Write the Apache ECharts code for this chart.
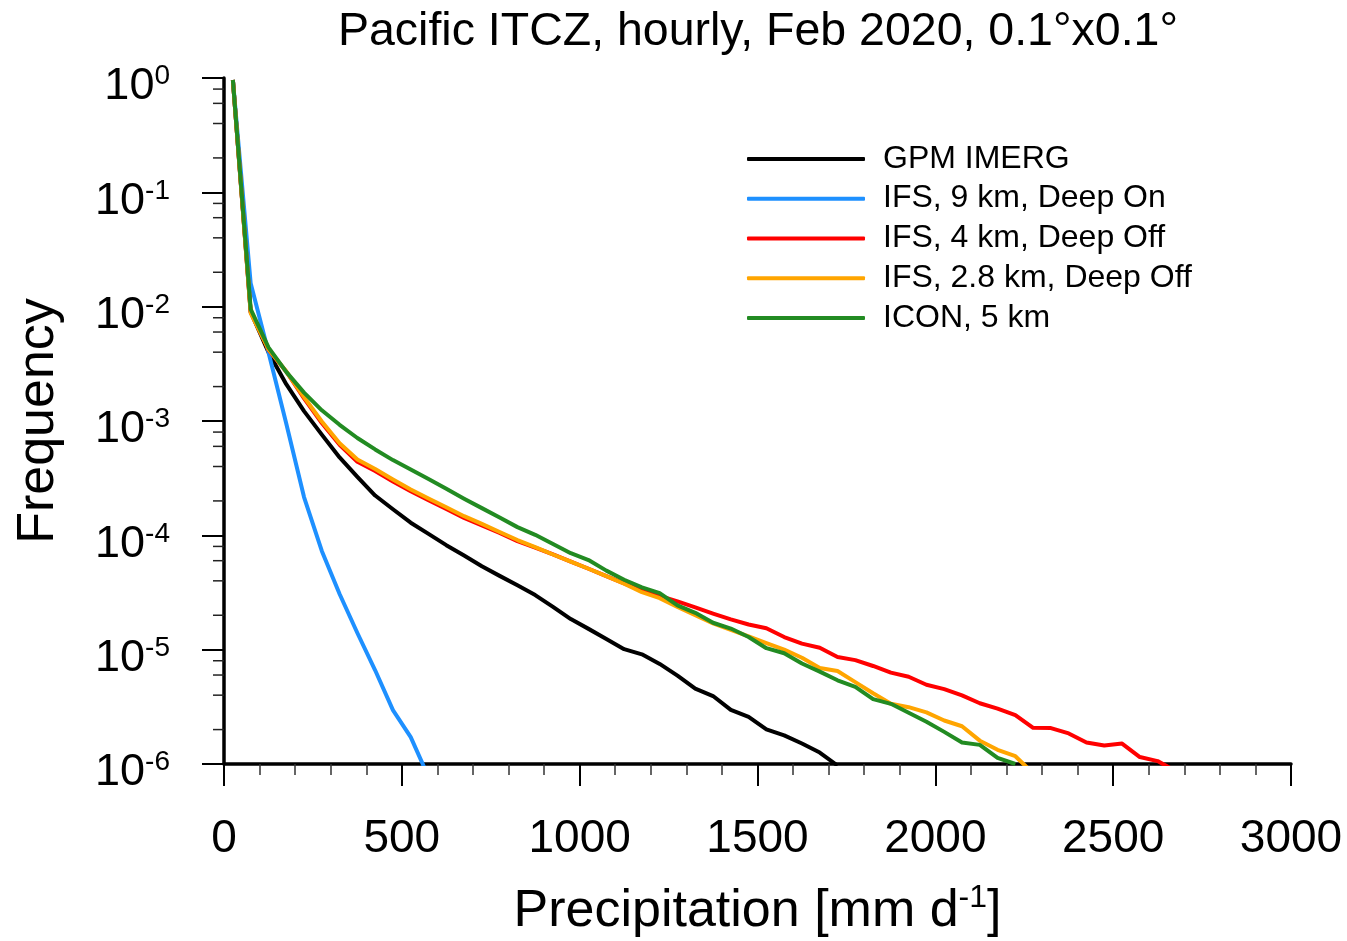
<!DOCTYPE html>
<html>
<head>
<meta charset="utf-8">
<script src="https://cdn.jsdelivr.net/npm/echarts@6/dist/echarts.min.js"></script>
<style>
html,body{margin:0;padding:0;background:#fff;}
#chart{width:1347px;height:941px;}
</style>
</head>
<body>
<div id="chart"></div>
<script>
// Bin centres of precipitation [mm/d]
const binStart = 25;
const binWidth = 50;

const seriesNames = ['GPM IMERG', 'IFS, 9 km, Deep On', 'IFS, 4 km, Deep Off', 'IFS, 2.8 km, Deep Off', 'ICON, 5 km'];
const seriesColors = ['#000000', '#1e90ff', '#ff0000', '#ffa500', '#228b22'];

const gpmImerg = [0.96, 9.0e-3, 4.0e-3, 2.1e-3, 1.22e-3, 7.6e-4, 4.8e-4, 3.25e-4, 2.23e-4, 1.69e-4,
  1.29e-4, 1.03e-4, 8.2e-5, 6.65e-5, 5.36e-5, 4.42e-5, 3.66e-5, 3.0e-5, 2.37e-5, 1.85e-5,
  1.52e-5, 1.24e-5, 1.01e-5, 9.1e-6, 7.5e-6, 5.93e-6, 4.57e-6, 3.93e-6, 2.97e-6, 2.58e-6,
  2.01e-6, 1.78e-6, 1.51e-6, 1.26e-6, 9.7e-7];

const ifs9kmDeepOn = [0.96, 1.6e-2, 4.0e-3, 9.5e-4, 2.16e-4, 7.3e-5, 3.07e-5, 1.4e-5, 6.6e-6, 2.96e-6,
  1.72e-6, 7.7e-7];

const ifs4kmDeepOff = [0.96, 9.0e-3, 4.2e-3, 2.71e-3, 1.58e-3, 9.6e-4, 6.2e-4, 4.4e-4, 3.66e-4, 2.96e-4,
  2.43e-4, 2.03e-4, 1.7e-4, 1.42e-4, 1.22e-4, 1.05e-4, 8.9e-5, 7.8e-5, 6.8e-5, 5.9e-5,
  5.1e-5, 4.4e-5, 3.8e-5, 3.29e-5, 2.96e-5, 2.64e-5, 2.34e-5, 2.07e-5, 1.84e-5, 1.66e-5,
  1.54e-5, 1.29e-5, 1.13e-5, 1.04e-5, 8.63e-6, 8.1e-6, 7.2e-6, 6.3e-6, 5.79e-6, 4.93e-6,
  4.52e-6, 3.98e-6, 3.4e-6, 3.05e-6, 2.68e-6, 2.07e-6, 2.06e-6, 1.85e-6, 1.54e-6, 1.45e-6,
  1.51e-6, 1.15e-6, 1.06e-6, 8.7e-7];

const ifs28kmDeepOff = [0.96, 8.8e-3, 4.25e-3, 2.71e-3, 1.62e-3, 9.9e-4, 6.4e-4, 4.6e-4, 3.8e-4, 3.08e-4,
  2.52e-4, 2.1e-4, 1.76e-4, 1.47e-4, 1.26e-4, 1.07e-4, 9.1e-5, 7.9e-5, 6.8e-5, 5.9e-5,
  5.1e-5, 4.4e-5, 3.77e-5, 3.18e-5, 2.82e-5, 2.36e-5, 2.0e-5, 1.7e-5, 1.49e-5, 1.31e-5,
  1.14e-5, 1.0e-5, 8.5e-6, 6.9e-6, 6.5e-6, 5.2e-6, 4.16e-6, 3.37e-6, 3.14e-6, 2.83e-6,
  2.4e-6, 2.14e-6, 1.6e-6, 1.33e-6, 1.17e-6, 8.3e-7];

const icon5km = [0.96, 9.5e-3, 4.4e-3, 2.69e-3, 1.77e-3, 1.24e-3, 9.26e-4, 7.1e-4, 5.64e-4, 4.55e-4,
  3.76e-4, 3.11e-4, 2.55e-4, 2.09e-4, 1.73e-4, 1.43e-4, 1.18e-4, 1.01e-4, 8.4e-5, 6.98e-5,
  6.08e-5, 4.91e-5, 4.09e-5, 3.51e-5, 3.12e-5, 2.44e-5, 2.1e-5, 1.72e-5, 1.53e-5, 1.29e-5,
  1.03e-5, 9.3e-6, 7.57e-6, 6.43e-6, 5.4e-6, 4.73e-6, 3.69e-6, 3.36e-6, 2.81e-6, 2.34e-6,
  1.91e-6, 1.54e-6, 1.47e-6, 1.13e-6, 1.0e-6];

const allSeries = [gpmImerg, ifs9kmDeepOn, ifs4kmDeepOff, ifs28kmDeepOff, icon5km];

// Axis ticks
const xTickInterval = 500;
const yMinorMultipliers = [2, 4, 6, 8];
const yDecades = [-6, -5, -4, -3, -2, -1];

const FONT = '"Liberation Sans", Arial, Helvetica, sans-serif';

function toPairs(vals) {
  return vals.map((v, i) => [binStart + i * binWidth, v]);
}

const yMinorTicks = [];
yDecades.forEach(d => yMinorMultipliers.forEach(m => yMinorTicks.push([0, m * Math.pow(10, d)])));

const chart = echarts.init(document.getElementById('chart'), null, {renderer: 'canvas'});

const lineSeries = allSeries.map((vals, i) => ({
  name: seriesNames[i],
  type: 'line',
  data: toPairs(vals),
  showSymbol: false,
  symbol: 'none',
  clip: true,
  lineStyle: {color: seriesColors[i], width: 4, join: 'round'},
  itemStyle: {color: seriesColors[i]},
  z: 3 + i,
  silent: true
}));

const minorTickSeries = {
  type: 'custom',
  name: 'yMinor',
  data: yMinorTicks,
  silent: true,
  clip: false,
  z: 2,
  renderItem: function (params, api) {
    const p = api.coord([api.value(0), api.value(1)]);
    return {
      type: 'line',
      shape: {x1: p[0] - 11, y1: p[1], x2: p[0], y2: p[1]},
      style: {stroke: '#222', lineWidth: 1.5}
    };
  }
};

const option = {
  backgroundColor: '#fff',
  animation: false,
  title: {
    text: 'Pacific ITCZ, hourly, Feb 2020, 0.1°x0.1°',
    left: 753,
    top: 4,
    textAlign: 'center',
    textStyle: {fontFamily: FONT, fontSize: 46.5, fontWeight: 'normal', color: '#000'}
  },
  legend: {
    data: seriesNames,
    orient: 'vertical',
    left: 742,
    top: 134,
    icon: 'roundRect',
    itemWidth: 118,
    itemHeight: 4,
    itemGap: 0,
    textStyle: {fontFamily: FONT, fontSize: 32, color: '#000', lineHeight: 39.75, padding: [0, 0, 0, 13]},
    selectedMode: false
  },
  grid: {left: 224, right: 56, top: 78, bottom: 177, containLabel: false, outerBoundsMode: 'none'},
  xAxis: {
    type: 'value',
    min: 0,
    max: 3000,
    interval: xTickInterval,
    name: '{a|Precipitation [mm d}{s|-1}{a|]}',
    nameLocation: 'middle',
    nameGap: 118,
    nameTextStyle: {
      rich: {
        a: {fontFamily: FONT, fontSize: 52, color: '#000'},
        s: {fontFamily: FONT, fontSize: 32, color: '#000', padding: [0, 0, 27, 0]}
      }
    },
    axisLine: {show: true, onZero: false, lineStyle: {color: '#000', width: 3.5}},
    axisTick: {show: true, length: 22, lineStyle: {color: '#000', width: 2}},
    minorTick: {show: true, splitNumber: 5, length: 11, lineStyle: {color: '#333', width: 1.5}},
    splitLine: {show: false},
    minorSplitLine: {show: false},
    axisLabel: {
      fontFamily: FONT, fontSize: 46, color: '#000', margin: 52,
      formatter: function (v) { return String(v); }
    }
  },
  yAxis: {
    type: 'log',
    logBase: 10,
    min: 1e-6,
    max: 1,
    interval: 1,
    name: 'Frequency',
    nameLocation: 'middle',
    nameGap: 159,
    nameTextStyle: {fontFamily: FONT, fontSize: 52, color: '#000'},
    axisLine: {show: true, onZero: false, lineStyle: {color: '#000', width: 3.5}},
    axisTick: {show: true, length: 22, lineStyle: {color: '#000', width: 2}},
    splitLine: {show: false},
    axisLabel: {
      margin: 54,
      padding: [18, 0, 0, 0],
      formatter: function (v) {
        const e = Math.round(Math.log10(v));
        return '{b|10}{s|' + (e < 0 ? '-' + (-e) : e) + '}';
      },
      rich: {
        b: {fontFamily: FONT, fontSize: 45, color: '#000'},
        s: {fontFamily: FONT, fontSize: 28, color: '#000', padding: [0, 0, 21, 0]}
      }
    }
  },
  series: [minorTickSeries].concat(lineSeries)
};

chart.setOption(option);
</script>
</body>
</html>
